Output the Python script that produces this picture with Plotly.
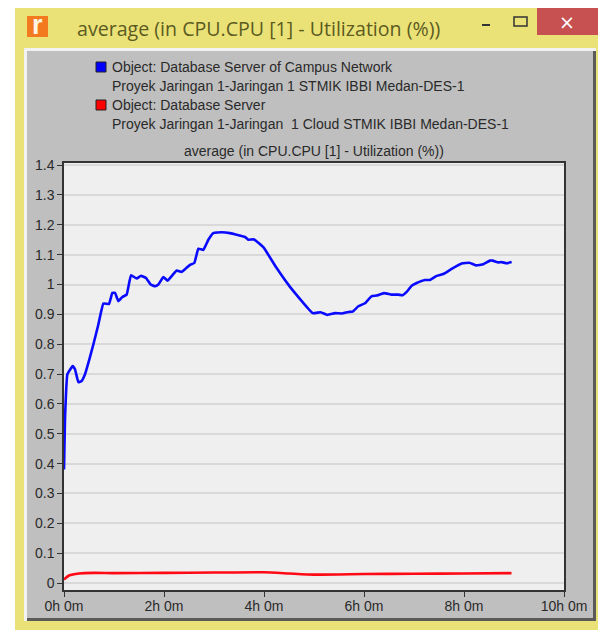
import plotly.graph_objects as go

TITLE = "average (in CPU.CPU [1] - Utilization (%))"
LEGEND_LINES = [
    "Object: Database Server of Campus Network",
    "Proyek Jaringan 1-Jaringan 1 STMIK IBBI Medan-DES-1",
    "Object: Database Server",
    "Proyek Jaringan 1-Jaringan  1 Cloud STMIK IBBI Medan-DES-1",
]
SERIES_NAMES = ["Database Server of Campus Network", "Database Server"]

blue_hours = [0, 0.02, 0.067, 0.173, 0.22, 0.287, 0.353, 0.42, 0.507, 0.587, 0.687, 0.787, 0.9, 0.967,
              1.02, 1.087, 1.167, 1.253, 1.34, 1.453, 1.54, 1.64, 1.733, 1.82, 1.887, 1.987, 2.073,
              2.253, 2.353, 2.52, 2.607, 2.687, 2.787, 2.887, 2.987, 3.153, 3.32, 3.62, 3.687, 3.8,
              3.987, 4.253, 4.52, 4.973, 5.133, 5.267, 5.42, 5.553, 5.687, 5.773, 5.887, 6.02, 6.153,
              6.253, 6.4, 6.553, 6.687, 6.773, 6.853, 6.953, 7.053, 7.22, 7.32, 7.453, 7.587, 7.753,
              7.953, 8.107, 8.24, 8.387, 8.52, 8.573, 8.687, 8.753, 8.853, 8.953]
blue_values = [0.38, 0.55, 0.699, 0.727, 0.716, 0.673, 0.677, 0.699, 0.749, 0.799, 0.866, 0.936, 0.935, 0.972,
               0.972, 0.944, 0.958, 0.966, 1.031, 1.020, 1.029, 1.022, 1.0, 0.994, 1.0, 1.025, 1.013,
               1.047, 1.042, 1.066, 1.072, 1.12, 1.116, 1.15, 1.172, 1.175, 1.172, 1.159, 1.15, 1.151,
               1.125, 1.055, 0.992, 0.904, 0.907, 0.898, 0.904, 0.903, 0.908, 0.909, 0.927, 0.937, 0.961,
               0.963, 0.971, 0.966, 0.966, 0.964, 0.975, 0.996, 1.005, 1.015, 1.015, 1.029, 1.035, 1.052,
               1.07, 1.073, 1.064, 1.068, 1.08, 1.08, 1.074, 1.075, 1.071, 1.075]

red_hours = [0, 0.1, 0.3, 0.6, 1, 2, 3, 4, 4.5, 5, 6, 7, 8, 8.95]
red_values = [0.012, 0.025, 0.032, 0.034, 0.033, 0.034, 0.035, 0.036, 0.032, 0.028, 0.03, 0.031, 0.032, 0.033]

y_ticks = [0, 0.1, 0.2, 0.3, 0.4, 0.5, 0.6, 0.7, 0.8, 0.9, 1, 1.1, 1.2, 1.3, 1.4]
y_labels = ["0", "0.1", "0.2", "0.3", "0.4", "0.5", "0.6", "0.7", "0.8", "0.9", "1", "1.1", "1.2", "1.3", "1.4"]
x_ticks = [0, 2, 4, 6, 8, 10]
x_labels = ["0h 0m", "2h 0m", "4h 0m", "6h 0m", "8h 0m", "10h 0m"]

W, H = 602, 631
L, R, T, B = 64, 564, 163, 590
FONT = "Liberation Sans"
TEXT = "#2a2a2a"


def px(x):
    return (x - L) / (R - L)


def py(y):
    return (B - y) / (B - T)


def rect(x0, y0, x1, y1, fill, line=None, width=0):
    return dict(type="rect", xref="paper", yref="paper", layer="below",
                x0=px(x0), x1=px(x1), y0=py(y1), y1=py(y0),
                fillcolor=fill, line=dict(color=line or fill, width=width))


def text(x, y, s, size=14, color=TEXT, anchor="left", family=FONT):
    return dict(xref="paper", yref="paper", x=px(x), y=py(y), text=s, showarrow=False,
                xanchor=anchor, yanchor="middle", font=dict(family=family, size=size, color=color))


fig = go.Figure()
fig.add_trace(go.Scatter(x=blue_hours, y=blue_values, name=SERIES_NAMES[0], mode="lines",
                         line=dict(color="#0a0aff", width=2.6, shape="spline", smoothing=0.3)))
fig.add_trace(go.Scatter(x=red_hours, y=red_values, name=SERIES_NAMES[1], mode="lines",
                         line=dict(color="#ff0a14", width=2.6, shape="spline", smoothing=0.5)))

shapes = [
    rect(15, 8, 598, 630, "#ebe277"),
    rect(537, 8, 598, 35, "#c75050"),
    rect(27, 16, 48, 37, "#f47a20"),
    rect(24, 48, 596, 621, "#f2f2f2"),
    rect(27, 51, 596, 621, "#5a5a5a"),
    rect(27, 51, 593, 618, "#bfbfbf"),
    rect(514, 17, 527, 26, "#ebe277", "#333333", 1.5),
    rect(482, 24, 490, 26, "#333333"),
    rect(96, 62, 106, 72, "#0000ff", "#222222", 1),
    rect(96, 100, 106, 110, "#ff0000", "#222222", 1),
    rect(L, T, R, B, "#efefef"),
]

annotations = [
    text(75, 28, TITLE, size=19.6, color="#5b5b22", family="Open Sans"),
    text(37.5, 25, "<b>r</b>", size=27, color="#fff4e6", anchor="center"),
    text(567, 22, "×", size=19, color="#ffffff", anchor="center", family="DejaVu Sans"),
    text(110, 67, LEGEND_LINES[0]),
    text(110, 86, LEGEND_LINES[1]),
    text(110, 105, LEGEND_LINES[2]),
    text(110, 124, LEGEND_LINES[3]),
    text(314, 151, TITLE, anchor="center"),
]

fig.update_layout(
    width=W, height=H, autosize=False, showlegend=False,
    paper_bgcolor="#ffffff", plot_bgcolor="rgba(0,0,0,0)",
    margin=dict(l=L, r=W - R, t=T, b=H - B, pad=0),
    shapes=shapes, annotations=annotations,
    font=dict(family=FONT, size=14, color=TEXT),
    xaxis=dict(range=[0, 10], tickvals=x_ticks, ticktext=x_labels, ticks="outside", ticklen=5,
               ticklabelstandoff=-3,
               tickcolor="#333333", showgrid=False, zeroline=False, showline=True, linecolor="#333333",
               linewidth=1.5, mirror=True, tickfont=dict(size=14, color=TEXT)),
    yaxis=dict(range=[-0.0234, 1.407], tickvals=y_ticks, ticktext=y_labels, ticks="outside", ticklen=5,
               tickcolor="#333333", showgrid=True, gridcolor="#d9d9d9", gridwidth=1.5, zeroline=False,
               showline=True, linecolor="#333333", linewidth=1.5, mirror=True,
               tickfont=dict(size=14, color=TEXT)),
)

fig.write_html("out.html", config=dict(displayModeBar=False),
               post_script="document.body.style.margin='0';document.body.style.overflow='hidden';")
